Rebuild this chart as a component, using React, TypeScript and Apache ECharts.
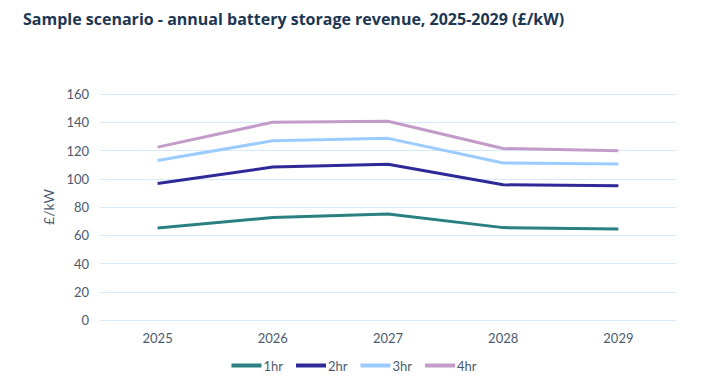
import React, { useEffect, useRef } from "react";
import * as echarts from "echarts";

const years = ["2025", "2026", "2027", "2028", "2029"];
const hr1 = [65.2, 72.5, 75.1, 65.4, 64.5];
const hr2 = [96.7, 108.3, 110.2, 95.7, 95.0];
const hr3 = [112.9, 126.9, 128.6, 111.2, 110.5];
const hr4 = [122.4, 140.0, 140.7, 121.4, 119.8];
const seriesNames = ["1hr", "2hr", "3hr", "4hr"];
const colors = ["#2a8081", "#2d2a98", "#9ccbff", "#c39bc9"];

export default function App() {
  const ref = useRef<HTMLDivElement>(null);
  useEffect(() => {
    const chart = echarts.init(ref.current!, null, { renderer: "svg" });
    const data = [hr1, hr2, hr3, hr4];
    chart.setOption({
      animation: false,
      backgroundColor: "#ffffff",
      title: {
        text: "Sample scenario - annual battery storage revenue, 2025-2029 (£/kW)",
        left: 18,
        top: 6,
        textStyle: {
          fontFamily: "Open Sans",
          fontWeight: "bold",
          fontSize: 16,
          color: "#1d3753",
        },
      },
      legend: {
        bottom: 10,
        left: "center",
        itemWidth: 30,
        itemHeight: 4,
        itemGap: 13,
        icon: "rect",
        textStyle: { fontFamily: "Lato", fontSize: 13, color: "#4b5a6e", padding: [0, 0, 0, -3] },
        data: seriesNames,
      },
      grid: { left: 100, right: 32, top: 94, bottom: 67 },
      xAxis: {
        type: "category",
        data: years,
        boundaryGap: true,
        axisLine: { show: true, lineStyle: { color: "#d6e9f8" } },
        axisTick: { show: false },
        axisLabel: { fontFamily: "Lato", fontSize: 13, color: "#4b5a6e", margin: 11 },
      },
      yAxis: {
        type: "value",
        min: 0,
        max: 160,
        interval: 20,
        name: "£/kW",
        nameLocation: "middle",
        nameGap: 35,
        nameTextStyle: { fontFamily: "Lato", fontSize: 14, color: "#4b5a6e" },
        axisLine: { show: false },
        axisTick: { show: false },
        axisLabel: { fontFamily: "Lato", fontSize: 13, color: "#4b5a6e", margin: 11 },
        splitLine: { lineStyle: { color: "#d6e9f8", width: 1 } },
      },
      series: seriesNames.map((n, i) => ({
        name: n,
        type: "line",
        data: data[i],
        symbol: "none",
        color: colors[i],
        lineStyle: { width: 3, color: colors[i] },
      })),
    });
    return () => chart.dispose();
  }, []);
  return <div ref={ref} style={{ width: 708, height: 387, position: "absolute", left: 0, top: 0 }} />;
}
